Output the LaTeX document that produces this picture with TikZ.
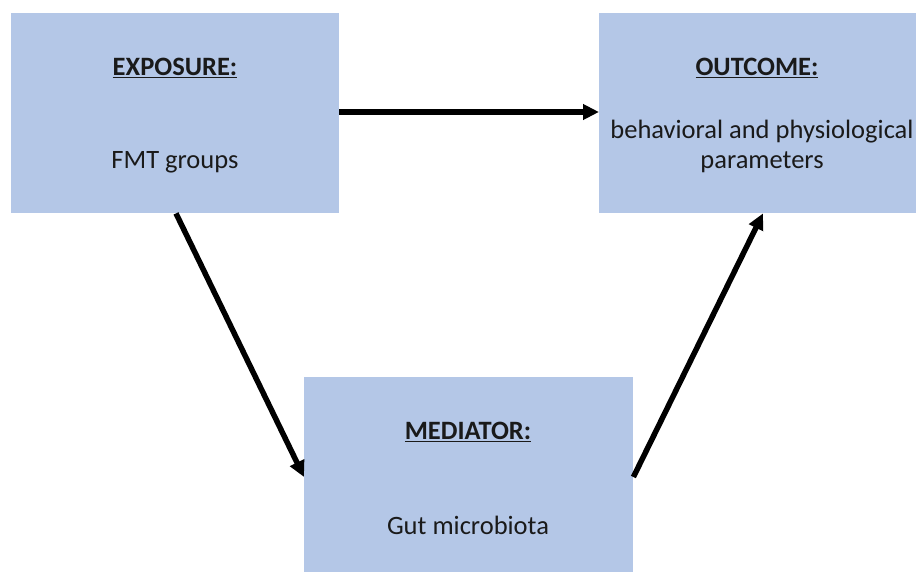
\documentclass[tikz,border=0pt]{standalone}
\usepackage{fontspec}
\setmainfont{Carlito}
\usetikzlibrary{arrows.meta,calc}
\definecolor{boxblue}{HTML}{B4C7E7}
\definecolor{txt}{HTML}{1A1A1A}
\newcommand{\ulbox}[1]{\tikz[baseline=(ult.base)]{\node[inner sep=0pt] (ult) {#1}; \draw[line width=2pt, txt] ([yshift=-4pt]ult.base west) -- ([yshift=-4pt]ult.base east);}}
\tikzset{
  box/.style={fill=boxblue, draw=none, anchor=north west, inner sep=0pt},
  title/.style={font=\fontsize{26.5}{30}\selectfont\bfseries, text=txt, inner sep=0pt},
  body/.style={font=\fontsize{26.5}{30}\selectfont, text=txt, inner sep=0pt, align=center},
  conn/.style={line width=5.5pt, -{Triangle[length=16pt,width=15pt]}, black}
}
\begin{document}
\begin{tikzpicture}[x=1pt,y=-1pt]
\useasboundingbox (0,0) rectangle (916,572);
\fill[white] (0,0) rectangle (916,572);
\node[box, minimum width=328pt, minimum height=200pt] (exp) at (11,13) {};
\node[box, minimum width=317pt, minimum height=200pt] (out) at (599,13) {};
\node[box, minimum width=329pt, minimum height=195pt] (med) at (304,377) {};
\node[title] (expt) at (175,68) {\underline{EXPOSURE:}};
\node[body] (expb) at (175,162) {FMT groups};
\node[title] (outt) at (757,68) {\underline{OUTCOME:}};
\node[body] (outb) at (762,146) {behavioral and physiological\\parameters};
\node[title] (medt) at (468,432) {\underline{MEDIATOR:}};
\node[body] (medb) at (468,525) {Gut microbiota};
\coordinate (a1s) at ($(exp.south west)+(165,0)$);
\coordinate (a1e) at ($(med.north west)+(0,100)$);
\coordinate (a2s) at ($(med.north east)+(0,100)$);
\coordinate (a2e) at ($(out.south west)+(164,0)$);
\draw[conn] (exp.east |- 0,112) -- (out.west |- 0,112);
\draw[conn] (a1s) -- (a1e);
\draw[conn] (a2s) -- (a2e);
\end{tikzpicture}
\end{document}
